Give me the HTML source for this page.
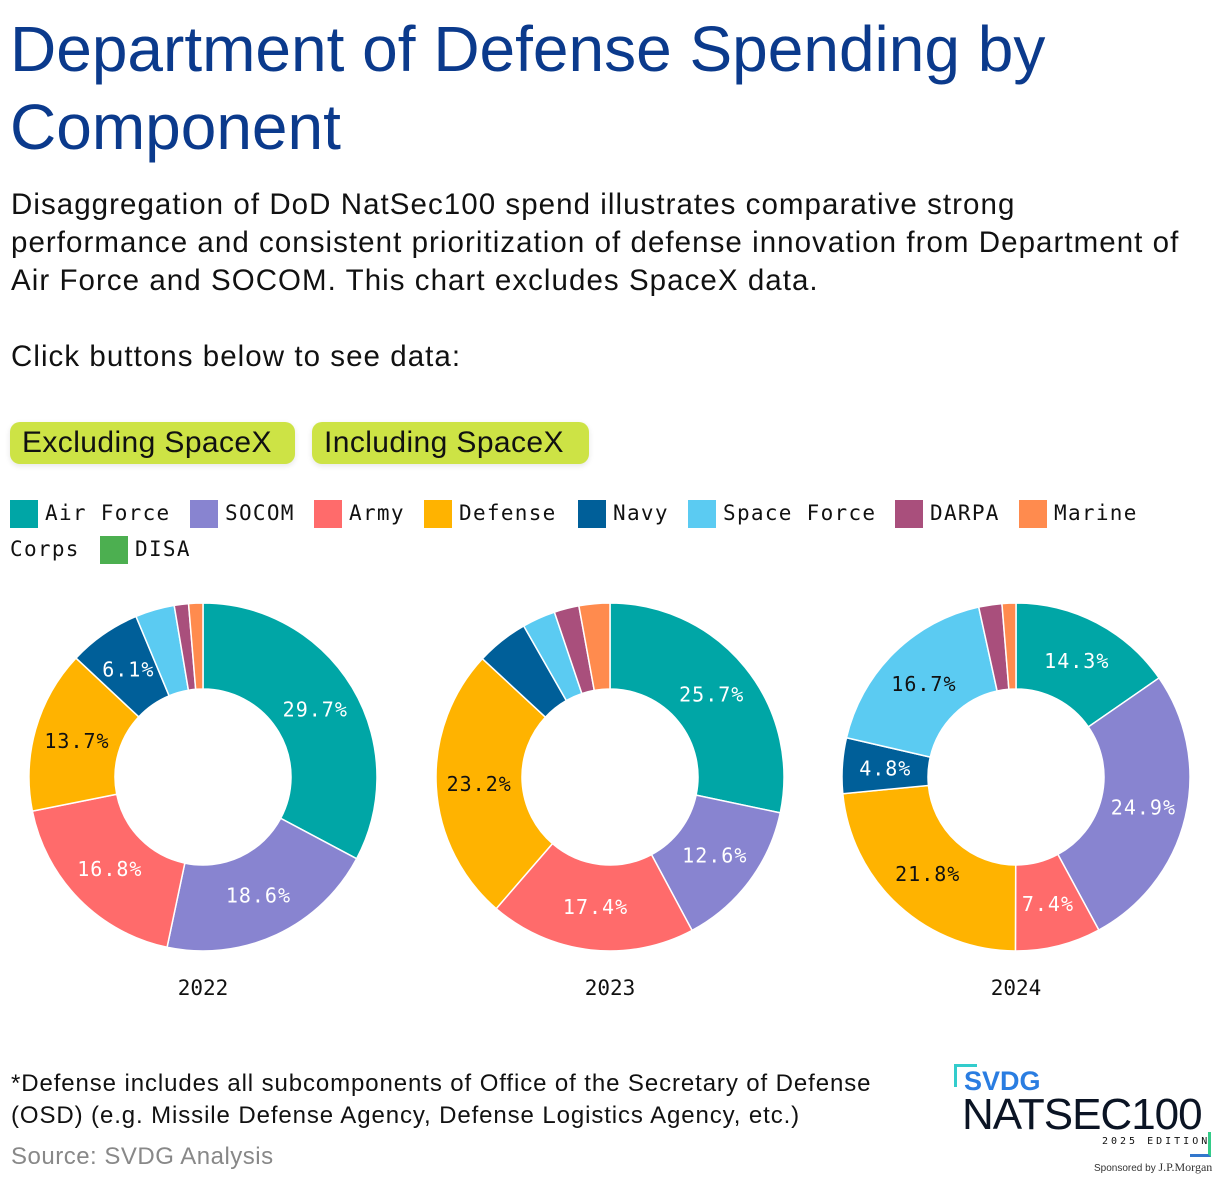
<!DOCTYPE html>
<html><head><meta charset="utf-8">
<style>
body{margin:0;width:1220px;height:1184px;background:#fff;position:relative;overflow:hidden;font-family:"Liberation Sans",sans-serif;}
.abs{position:absolute;}
h1{position:absolute;left:10px;top:10px;margin:0;font-weight:normal;font-size:64px;line-height:78px;color:#0b3a8c;width:1200px;}
.sub{left:11px;top:186px;font-size:29.5px;line-height:38px;color:#111;width:1210px;white-space:nowrap;letter-spacing:1.05px;}
.btn{top:422px;height:42px;background:#cde345;border-radius:10px;font-size:30px;line-height:42px;padding:0 0 0 12px;color:#111;box-shadow:0 2px 6px rgba(0,0,0,0.1);letter-spacing:0.4px;box-sizing:border-box;}
.leg{font-family:"DejaVu Sans Mono",monospace;font-size:21px;letter-spacing:1.3px;color:#111;line-height:26px;}
.sw{width:28px;height:28px;}
</style></head><body>
<h1>Department of Defense Spending by<br>Component</h1>
<div class="abs sub">Disaggregation of DoD NatSec100 spend illustrates comparative strong<br>performance and consistent prioritization of defense innovation from Department of<br>Air Force and SOCOM. This chart excludes SpaceX data.<br><br>Click buttons below to see data:</div>
<div class="abs btn" style="left:10px;width:285px;">Excluding SpaceX</div>
<div class="abs btn" style="left:312px;width:277px;">Including SpaceX</div>
<div id="legend"></div>
<svg id="chart" class="abs" style="left:0;top:0" width="1220" height="1184"></svg>
<div class="abs" style="left:11px;top:1068px;font-size:24px;line-height:32px;color:#111;letter-spacing:0.9px;white-space:nowrap;">*Defense includes all subcomponents of Office of the Secretary of Defense<br>(OSD) (e.g. Missile Defense Agency, Defense Logistics Agency, etc.)</div>
<div class="abs" style="left:11px;top:1143px;font-size:24px;color:#888;letter-spacing:0.5px;">Source: SVDG Analysis</div>
<div class="abs" style="left:950px;top:1062px;width:265px;height:120px;">
 <div class="abs" style="left:4px;top:2px;width:20px;height:20px;border-left:3px solid #3cc;border-top:3px solid #3cc;"></div>
 <div class="abs" style="left:14px;top:4px;font-size:27px;font-weight:bold;color:#2a7de1;">SVDG</div>
 <div class="abs" style="left:12px;top:28px;font-size:44px;color:#0b1424;letter-spacing:-1px;">NATSEC100</div>
 <div class="abs" style="left:152px;top:74px;font-family:'DejaVu Sans Mono',monospace;font-size:10px;letter-spacing:3px;color:#111;">2025 EDITION</div>
 <div class="abs" style="left:240px;top:70px;width:18px;height:22px;border-right:3px solid #3c8;border-bottom:3px solid #37c;"></div>
 <div class="abs" style="left:144px;top:98px;font-size:10px;color:#333;">Sponsored by <span style="font-family:'Liberation Serif',serif;font-size:12px;">J.P.Morgan</span></div>
</div>
<script>
const categories=["Air Force","SOCOM","Army","Defense","Navy","Space Force","DARPA","Marine Corps","DISA"];
const colors=["#00a6a6","#8884d0","#ff6b6b","#ffb300","#005f99","#5bcbf2","#a94f7c","#ff8b4e","#4caf50"];
const years=["2022","2023","2024"];
const values2022=[29.7,18.6,16.8,13.7,6.1,3.3,1.2,1.2,0];
const values2023=[25.7,12.6,17.4,23.2,4.4,2.8,2.1,2.6,0];
const values2024=[14.3,24.9,7.4,21.8,4.8,16.7,2.0,1.2,0];
const series=[values2022,values2023,values2024];
const darkLabel=[false,false,false,true,false,true,false,false,false];
const NS="http://www.w3.org/2000/svg";
const svg=document.getElementById('chart');
const legPos=[[10,500],[190,500],[314,500],[424,500],[578,500],[688,500],[895,500],[1019,500],[100,536]];
const leg=document.getElementById('legend');
categories.forEach((c,i)=>{
  const sw=document.createElement('div');
  sw.className='abs sw';sw.style.left=legPos[i][0]+'px';sw.style.top=legPos[i][1]+'px';sw.style.background=colors[i];
  
  
  leg.appendChild(sw);
  const t=document.createElement('div');
  t.className='abs leg';t.style.left=(legPos[i][0]+35)+'px';t.style.top=(legPos[i][1])+'px';
  t.textContent=(c==="Marine Corps")?"Marine":c;
  
  
  leg.appendChild(t);
});
const corps=document.createElement('div');
corps.className='abs leg';corps.style.left='10px';corps.style.top='536px';corps.textContent='Corps';


leg.appendChild(corps);
const centers=[203,610,1016],cy=777,R=174,r0=88;
function pt(cx,rad,a){return [cx+rad*Math.sin(a),cy-rad*Math.cos(a)];}
series.forEach((vals,k)=>{
  const cx=centers[k];const tot=vals.reduce((a,b)=>a+b,0);let a=0;
  vals.forEach((v,i)=>{
    if(v<=0)return;
    const a1=a+v/tot*2*Math.PI;
    const p1=pt(cx,R,a),p2=pt(cx,R,a1),p3=pt(cx,r0,a1),p4=pt(cx,r0,a);
    const lg=(a1-a)>Math.PI?1:0;
    const path=document.createElementNS(NS,'path');
    path.setAttribute('d',`M${p1}A${R},${R} 0 ${lg} 1 ${p2}L${p3}A${r0},${r0} 0 ${lg} 0 ${p4}Z`);
    path.setAttribute('fill',colors[i]);path.setAttribute('stroke','#fff');path.setAttribute('stroke-width','1.5');
    
    
    svg.appendChild(path);
    if(v>=4.5){
      const m=pt(cx,131,(a+a1)/2);
      const t=document.createElementNS(NS,'text');
      t.setAttribute('x',m[0]);t.setAttribute('y',m[1]+7);t.setAttribute('text-anchor','middle');
      t.setAttribute('font-family','DejaVu Sans Mono, monospace');t.setAttribute('font-size','20');
      t.setAttribute('letter-spacing','1');
      t.setAttribute('fill',darkLabel[i]?'#111':'#fff');
      t.textContent=v.toFixed(1)+'%';
      
      
      svg.appendChild(t);
    }
    a=a1;
  });
  const yl=document.createElementNS(NS,'text');
  yl.setAttribute('x',cx);yl.setAttribute('y',995);yl.setAttribute('text-anchor','middle');
  yl.setAttribute('font-family','DejaVu Sans Mono, monospace');yl.setAttribute('font-size','21');yl.setAttribute('fill','#111');
  yl.textContent=years[k];
  
  
  svg.appendChild(yl);
});
</script>
</body></html>
